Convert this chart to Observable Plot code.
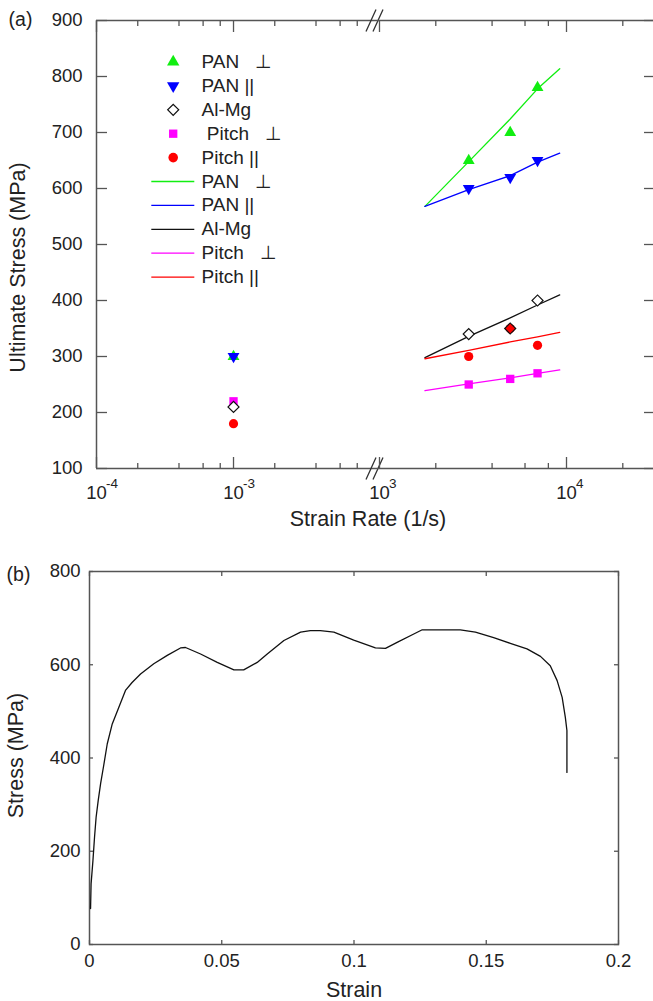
<!DOCTYPE html>
<html><head><meta charset="utf-8">
<script src="https://cdn.jsdelivr.net/npm/d3@7"></script>
<script src="https://cdn.jsdelivr.net/npm/@observablehq/plot@0.6"></script>
<style>
body{margin:0;background:#fff;}
#wrap{position:relative;width:653px;height:1001px;overflow:hidden;}
#wrap svg{position:absolute;left:0;}
</style>
</head><body><div id="wrap"></div>
<script>
// ---------- Panel (a) data ----------
const legendMarkerLabels = ["PAN   ⊥", "PAN ||", "Al-Mg", " Pitch   ⊥", "Pitch ||"];
const legendLineLabels = ["PAN   ⊥", "PAN ||", "Al-Mg", "Pitch   ⊥", "Pitch ||"];
const lowRate = [1e-3];
const panPerpLow = [300];
const panParLow = [300];
const alMgLow = [210];
const pitchPerpLow = [220];
const pitchParLow = [180];
const highRates = [3000, 5000, 7000];
const panPerpHigh = [650, 700, 780];
const panParHigh = [600, 620, 650];
const alMgHigh = [340, 350, 400];
const pitchPerpHigh = [250, 260, 270];
const pitchParHigh = [300, 350, 320];
const fitRates = [1750, 3000, 5000, 7000, 9200];
const panPerpFit = [568, 648, 724, 778, 814];
const panParFit = [568, 598, 623, 647, 663];
const alMgFit = [298, 336, 369, 392, 410];
const pitchPerpFit = [239, 251, 262, 270, 276];
const pitchParFit = [296, 311, 326, 335, 343];
const stressTicksA = [100, 200, 300, 400, 500, 600, 700, 800, 900];
const leftMajor = [1e-4, 1e-3];
const leftMajorExp = ["-4", "-3"];
const leftMinor = [2e-4, 4e-4, 6e-4, 8e-4, 2e-3, 4e-3, 6e-3, 8e-3];
const rightMajor = [1e3, 1e4];
const rightMajorExp = ["3", "4"];
const rightMinor = [2e3, 4e3, 6e3, 8e3, 2e4];

// ---------- Panel (b) data ----------
const strain = [0.0004, 0.0006, 0.0013, 0.0019, 0.0025, 0.0033, 0.0042, 0.0054, 0.0067, 0.0086, 0.0111, 0.0136, 0.0161, 0.0193, 0.0243, 0.0294, 0.0344, 0.0363, 0.042, 0.0483, 0.0546, 0.0583, 0.0634, 0.0672, 0.0735, 0.0798, 0.0835, 0.0873, 0.0924, 0.0999, 0.1081, 0.1119, 0.1163, 0.1226, 0.1258, 0.1402, 0.1459, 0.1528, 0.1591, 0.1654, 0.1705, 0.1742, 0.1768, 0.1787, 0.1799, 0.1805, 0.1805];
const stress = [77, 130, 180, 230, 273, 309, 345, 385, 430, 473, 509, 545, 562, 580, 602, 620, 636, 637, 623, 605, 589, 589, 605, 623, 652, 670, 673, 673, 670, 653, 636, 635, 648, 666, 675, 675, 670, 658, 646, 634, 618, 598, 566, 530, 487, 459, 369];
const strainTicks = [0, 0.05, 0.1, 0.15, 0.2];
const stressTicksB = [0, 200, 400, 600, 800];

// ---------- styles ----------
const axisColor = "#555";
const textColor = "#222";
const font = "'Liberation Sans', Arial, sans-serif";
const cGreen = "#11ee11", cBlue = "#0000ff", cMag = "#ff00ff", cRed = "#ff0000";
const baseStyle = {fontFamily: font, fontSize: "18px", color: textColor, background: "transparent", overflow: "visible"};
const wrap = document.getElementById("wrap");

const zip = (xs, ys) => xs.map((x, i) => [x, ys[i]]);
const lineSym = {draw(ctx) { ctx.moveTo(-21.5, 0); ctx.lineTo(21.5, 0); }};
const breakSym = {draw(ctx) { for (const o of [-3.5, 3.5]) { ctx.moveTo(o - 5, 11); ctx.lineTo(o + 5, -11); } }};
const label = (t, o) => Plot.text([t], {textAnchor: "middle", lineAnchor: "middle", fill: textColor, ...o});

function seriesMarks(rates, perp, par, alMg, pPerp, pPar) {
  return [
    Plot.dot(zip(rates, perp), {symbol: "triangle", r: 4.4, fill: cGreen}),
    Plot.dot(zip(rates, par), {symbol: "triangle", rotate: 180, r: 4.4, fill: cBlue}),
    Plot.dot(zip(rates, pPerp), {symbol: "square", r: 4.7, fill: cMag}),
    Plot.dot(zip(rates, pPar), {symbol: "circle", r: 4.6, fill: cRed}),
    Plot.dot(zip(rates, alMg), {symbol: "square", rotate: 45, r: 4.4, stroke: "#111", strokeWidth: 1.2,
      fill: (d, i) => (pPar[i] === alMg[i] ? cRed : "white")})
  ];
}

function logAxes(major, exps, minor) {
  const tk = {stroke: axisColor, strokeWidth: 1.3, label: null};
  return [
    Plot.axisX({...tk, ticks: major, tickSize: -11, tickPadding: 28, fontSize: 18.5, tickFormat: () => "10"}),
    Plot.text(major, {x: d => d, text: exps, frameAnchor: "bottom", textAnchor: "start", lineAnchor: "top", dx: 9.5, dy: 10, fontSize: 13.5, fill: textColor}),
    Plot.axisX({...tk, ticks: minor, tickSize: -5, tickFormat: () => ""}),
    Plot.axisX({...tk, anchor: "top", ticks: major, tickSize: -11, tickFormat: () => ""}),
    Plot.axisX({...tk, anchor: "top", ticks: minor, tickSize: -5, tickFormat: () => ""})
  ];
}

// legend (drawn in the left sub-plot, frame anchored)
const legendMarks = [];
const markerSpecs = [
  {symbol: "triangle", r: 4.6, fill: cGreen},
  {symbol: "triangle", rotate: 180, r: 4.6, fill: cBlue},
  {symbol: "square", rotate: 45, r: 4.4, fill: "white", stroke: "#111", strokeWidth: 1.2},
  {symbol: "square", r: 4.7, fill: cMag},
  {symbol: "circle", r: 4.8, fill: cRed}
];
const lineColors = [cGreen, cBlue, "#111", cMag, cRed];
legendMarkerLabels.forEach((lab, i) => {
  const dy = 41.5 + i * 23.9;
  legendMarks.push(Plot.dot([0], {frameAnchor: "top-left", dx: 76.7, dy, ...markerSpecs[i]}));
  legendMarks.push(label(lab, {frameAnchor: "top-left", dx: 105, dy, textAnchor: "start", fontSize: 19}));
});
legendLineLabels.forEach((lab, i) => {
  const dy = 41.5 + (i + 5) * 23.9;
  legendMarks.push(Plot.dot([0], {frameAnchor: "top-left", dx: 76.3, dy, symbol: lineSym, stroke: lineColors[i], strokeWidth: 1.3}));
  legendMarks.push(label(lab, {frameAnchor: "top-left", dx: 105, dy, textAnchor: "start", fontSize: 19}));
});

const aCommon = {width: 653, height: 530, marginTop: 20, marginBottom: 62, y: {domain: [100, 900]}, style: baseStyle};

// Left segment of the broken log axis
const aLeft = Plot.plot({
  ...aCommon,
  marginLeft: 96, marginRight: 653 - 374,
  x: {type: "log", domain: [1e-4, Math.pow(10, -1.971)]},
  marks: [
    Plot.ruleX([1e-4], {stroke: axisColor, strokeWidth: 1.5}),
    Plot.ruleY([100, 900], {stroke: axisColor, strokeWidth: 1.5}),
    Plot.axisY({ticks: stressTicksA, tickSize: -11, tickPadding: 25, stroke: axisColor, strokeWidth: 1.3, fontSize: 18.5, label: null}),
    ...logAxes(leftMajor, leftMajorExp, leftMinor),
    ...seriesMarks(lowRate, panPerpLow, panParLow, alMgLow, pitchPerpLow, pitchParLow),
    ...legendMarks,
    Plot.dot([0], {frameAnchor: "top-right", symbol: breakSym, stroke: "#333", strokeWidth: 1.3}),
    Plot.dot([0], {frameAnchor: "bottom-right", symbol: breakSym, stroke: "#333", strokeWidth: 1.3}),
    label("(a)", {frameAnchor: "top-left", dx: -76, dy: -1, fontSize: 19.5}),
    label("Ultimate Stress (MPa)", {frameAnchor: "left", rotate: -90, dx: -78, dy: 23, fontSize: 21.5}),
    label("Strain Rate (1/s)", {frameAnchor: "bottom", dx: 132.5, dy: 51, fontSize: 21.5})
  ]
});

// Right segment of the broken log axis
const aRight = Plot.plot({
  ...aCommon,
  marginLeft: 374, marginRight: 0,
  x: {type: "log", domain: [Math.pow(10, 2.9733), Math.pow(10, 4.4652)]},
  marks: [
    Plot.ruleY([100, 900], {stroke: axisColor, strokeWidth: 1.5}),
    Plot.axisY({anchor: "right", ticks: stressTicksA, tickSize: -10, stroke: axisColor, strokeWidth: 1.3, tickFormat: () => "", label: null}),
    ...logAxes(rightMajor, rightMajorExp, rightMinor),
    Plot.line(zip(fitRates, panPerpFit), {stroke: cGreen, strokeWidth: 1.3}),
    Plot.line(zip(fitRates, panParFit), {stroke: cBlue, strokeWidth: 1.3}),
    Plot.line(zip(fitRates, alMgFit), {stroke: "#111", strokeWidth: 1.3}),
    Plot.line(zip(fitRates, pitchPerpFit), {stroke: cMag, strokeWidth: 1.3}),
    Plot.line(zip(fitRates, pitchParFit), {stroke: cRed, strokeWidth: 1.3}),
    ...seriesMarks(highRates, panPerpHigh, panParHigh, alMgHigh, pitchPerpHigh, pitchParHigh)
  ]
});

// Panel (b)
const b = Plot.plot({
  width: 653, height: 471, marginTop: 41, marginBottom: 57, marginLeft: 89, marginRight: 35,
  x: {domain: [0, 0.2]}, y: {domain: [0, 800]}, style: baseStyle,
  marks: [
    Plot.frame({stroke: axisColor, strokeWidth: 1.5}),
    Plot.axisX({ticks: strainTicks, tickSize: -4, tickPadding: 13, stroke: axisColor, strokeWidth: 1.3, fontSize: 18.5, label: null, tickFormat: d => String(d)}),
    Plot.axisX({anchor: "top", ticks: strainTicks, tickSize: -4, stroke: axisColor, strokeWidth: 1.3, tickFormat: () => "", label: null}),
    Plot.axisY({ticks: stressTicksB, tickSize: -4, tickPadding: 13, stroke: axisColor, strokeWidth: 1.3, fontSize: 18.5, label: null}),
    Plot.axisY({anchor: "right", ticks: stressTicksB, tickSize: -5, stroke: axisColor, strokeWidth: 1.3, tickFormat: () => "", label: null}),
    Plot.line(zip(strain, stress), {stroke: "#111", strokeWidth: 1.3}),
    label("(b)", {frameAnchor: "top-left", dx: -71, dy: 3, fontSize: 19.5}),
    label("Stress (MPa)", {frameAnchor: "left", rotate: -90, dx: -73, dy: -2.5, fontSize: 21.5}),
    label("Strain", {frameAnchor: "bottom", dy: 46, fontSize: 21.5})
  ]
});

aLeft.style.top = "0px";
aRight.style.top = "0px";
b.style.top = "530px";
wrap.append(aLeft, aRight, b);
</script>
</body></html>
